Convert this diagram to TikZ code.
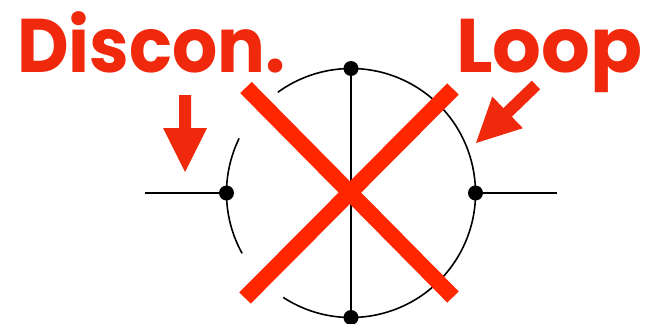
\documentclass[tikz,border=0pt]{standalone}
\usepackage{fontspec}
\newfontfamily\pop{Poppins}
\definecolor{xred}{RGB}{255,38,0}
\definecolor{tred}{RGB}{240,40,12}
\begin{document}
\begin{tikzpicture}[x=1pt,y=-1pt,
  dot/.style={circle,fill=black,inner sep=0pt,minimum size=15pt},
  wire/.style={line width=1.6pt,black},
  cross/.style={line width=16pt,xred,line cap=butt},
  label/.style={text=tred,font=\pop\bfseries\fontsize{76}{76}\selectfont,inner sep=0pt}]
\useasboundingbox[fill=white] (0,0) rectangle (649,324);
\coordinate (C) at (351,193);
% circle arcs
\draw[wire] ([shift={(C)}]-123:124.5pt) arc[start angle=-123,end angle=126,radius=124.5pt];
\draw[wire] ([shift={(C)}]154:124.5pt) arc[start angle=154,end angle=209,radius=124.5pt];
% dots
\node[dot] (top) at (351,68.5) {};
\node[dot] (bot) at (351,317.5) {};
\node[dot] (lft) at (226.5,193) {};
\node[dot] (rgt) at (475.5,193) {};
\coordinate (lend) at (145,193);
\coordinate (rend) at (557,193);
\draw[wire] (top.center) -- (bot.center);
\draw[wire] (lend) -- (lft.center);
\draw[wire] (rgt.center) -- (rend);
% red X
\coordinate (x1a) at (246,87.5);
\coordinate (x1b) at (453,297);
\coordinate (x2a) at (453,89);
\coordinate (x2b) at (245,298);
\draw[cross] (x1a) -- (x1b);
\draw[cross] (x2a) -- (x2b);
% labels
\node[label,anchor=base west] (discon) at (17,72) {\scalebox{0.935}[1]{Discon.}};
\node[label,anchor=base east] (loop) at (643,72) {\scalebox{1.01}[1]{Loop}};
% arrows
\fill[tred] (179,95) -- (191,95) -- (191,128) -- (207,128) -- (185,172) -- (163,128) -- (179,128) -- cycle;
\fill[tred] (531.8,80.7) -- (540.2,89.3) -- (511.8,116.7) -- (522.9,128.2) -- (476,143) -- (492.3,96.6) -- (503.4,108.1) -- cycle;
\end{tikzpicture}
\end{document}
